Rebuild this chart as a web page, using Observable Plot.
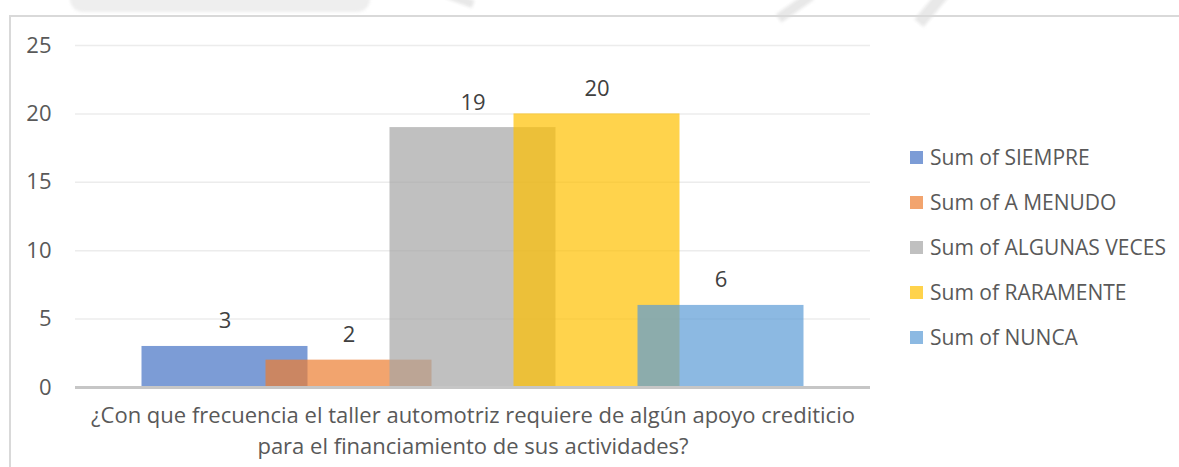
<!DOCTYPE html>
<html>
<head>
<meta charset="utf-8">
<script src="https://cdn.jsdelivr.net/npm/d3@7"></script>
<script src="https://cdn.jsdelivr.net/npm/@observablehq/plot@0.6"></script>
<style>
  html, body { margin: 0; padding: 0; background: #fff; }
  #wrap { position: relative; width: 1179px; height: 467px; overflow: hidden; font-family: "Open Sans", sans-serif; }
  #frame { position: absolute; left: 9px; top: 15px; width: 1300px; height: 600px; border-left: 2px solid #D9D9D9; border-top: 2px solid #D9D9D9; box-sizing: border-box; }
  .wm { position: absolute; background: #E8E8E8; filter: blur(1.5px); }
  #chart { position: absolute; left: 0; top: 0; }
  #legend { position: absolute; left: 910px; top: 0; }
  .item { position: absolute; left: 0; white-space: nowrap; display: flex; align-items: center; height: 24px; }
  .sw { width: 13px; height: 13px; margin-right: 7px; }
  .lab { font-size: 21px; color: #595959; line-height: 24px; }
</style>
</head>
<body>
<div id="wrap">
  <div class="wm" style="left:70px; top:-14px; width:300px; height:26px; border-radius:14px; background:#EEEEEE;"></div>
  <div class="wm" style="left:415px; top:-10px; width:60px; height:8px; transform:rotate(20deg);"></div>
  <div class="wm" style="left:775px; top:2px; width:40px; height:10px; transform:rotate(-35deg);"></div>
  <div class="wm" style="left:910px; top:-2px; width:50px; height:12px; transform:rotate(-50deg);"></div>
  <div id="frame"></div>
  <div id="chart"></div>
  <div id="legend"></div>
</div>
<script>
const series = ["Sum of SIEMPRE", "Sum of A MENUDO", "Sum of ALGUNAS VECES", "Sum of RARAMENTE", "Sum of NUNCA"];
const values = [3, 2, 19, 20, 6];
const colors = ["#4472C4", "#ED7D31", "#A5A5A5", "#FFC000", "#5B9BD5"];
const yTicks = [0, 5, 10, 15, 20, 25];
const category = "¿Con que frecuencia el taller automotriz requiere de algún apoyo crediticio\npara el financiamiento de sus actividades?";

const data = series.map((s, i) => ({s, v: values[i]}));

const chart = Plot.plot({
  width: 1179,
  height: 467,
  marginLeft: 75,
  marginRight: 309,
  marginTop: 45,
  marginBottom: 80,
  style: {fontFamily: "'Open Sans', sans-serif", background: "transparent"},
  x: {type: "band", domain: series, paddingInner: 0, paddingOuter: 0.7056, round: false, axis: null},
  y: {domain: [0, 25], axis: null},
  color: {domain: series, range: colors},
  marks: [
    Plot.gridY(yTicks.filter(d => d > 0), {stroke: "#ECECEC", strokeOpacity: 1, strokeWidth: 1.5}),
    Plot.axisY(yTicks, {tickSize: 0, tickPadding: 24, fontSize: 22, fill: "#595959", label: null}),
    Plot.rectY(data, {x: "s", y: "v", fill: "s", fillOpacity: 0.7, insetLeft: -21, insetRight: -21}),
    Plot.ruleY([0], {stroke: "#C6C6C6", strokeWidth: 3}),
    Plot.text(data, {x: "s", y: "v", text: d => String(d.v), lineAnchor: "bottom", dy: -18, fontSize: 22, fill: "#404040"}),
    Plot.text([category], {text: d => d, frameAnchor: "bottom", lineAnchor: "top", dy: 13, lineHeight: 1.41, fontSize: 22, fill: "#595959"})
  ]
});
document.getElementById("chart").appendChild(chart);

const legend = document.getElementById("legend");
series.forEach((s, i) => {
  const item = document.createElement("div");
  item.className = "item";
  item.style.top = (157 + i * 45 - 12) + "px";
  const sw = document.createElement("div");
  sw.className = "sw";
  sw.style.background = colors[i];
  sw.style.opacity = 0.7;
  const lab = document.createElement("span");
  lab.className = "lab";
  lab.textContent = s;
  item.appendChild(sw);
  item.appendChild(lab);
  legend.appendChild(item);
});
</script>
</body>
</html>
